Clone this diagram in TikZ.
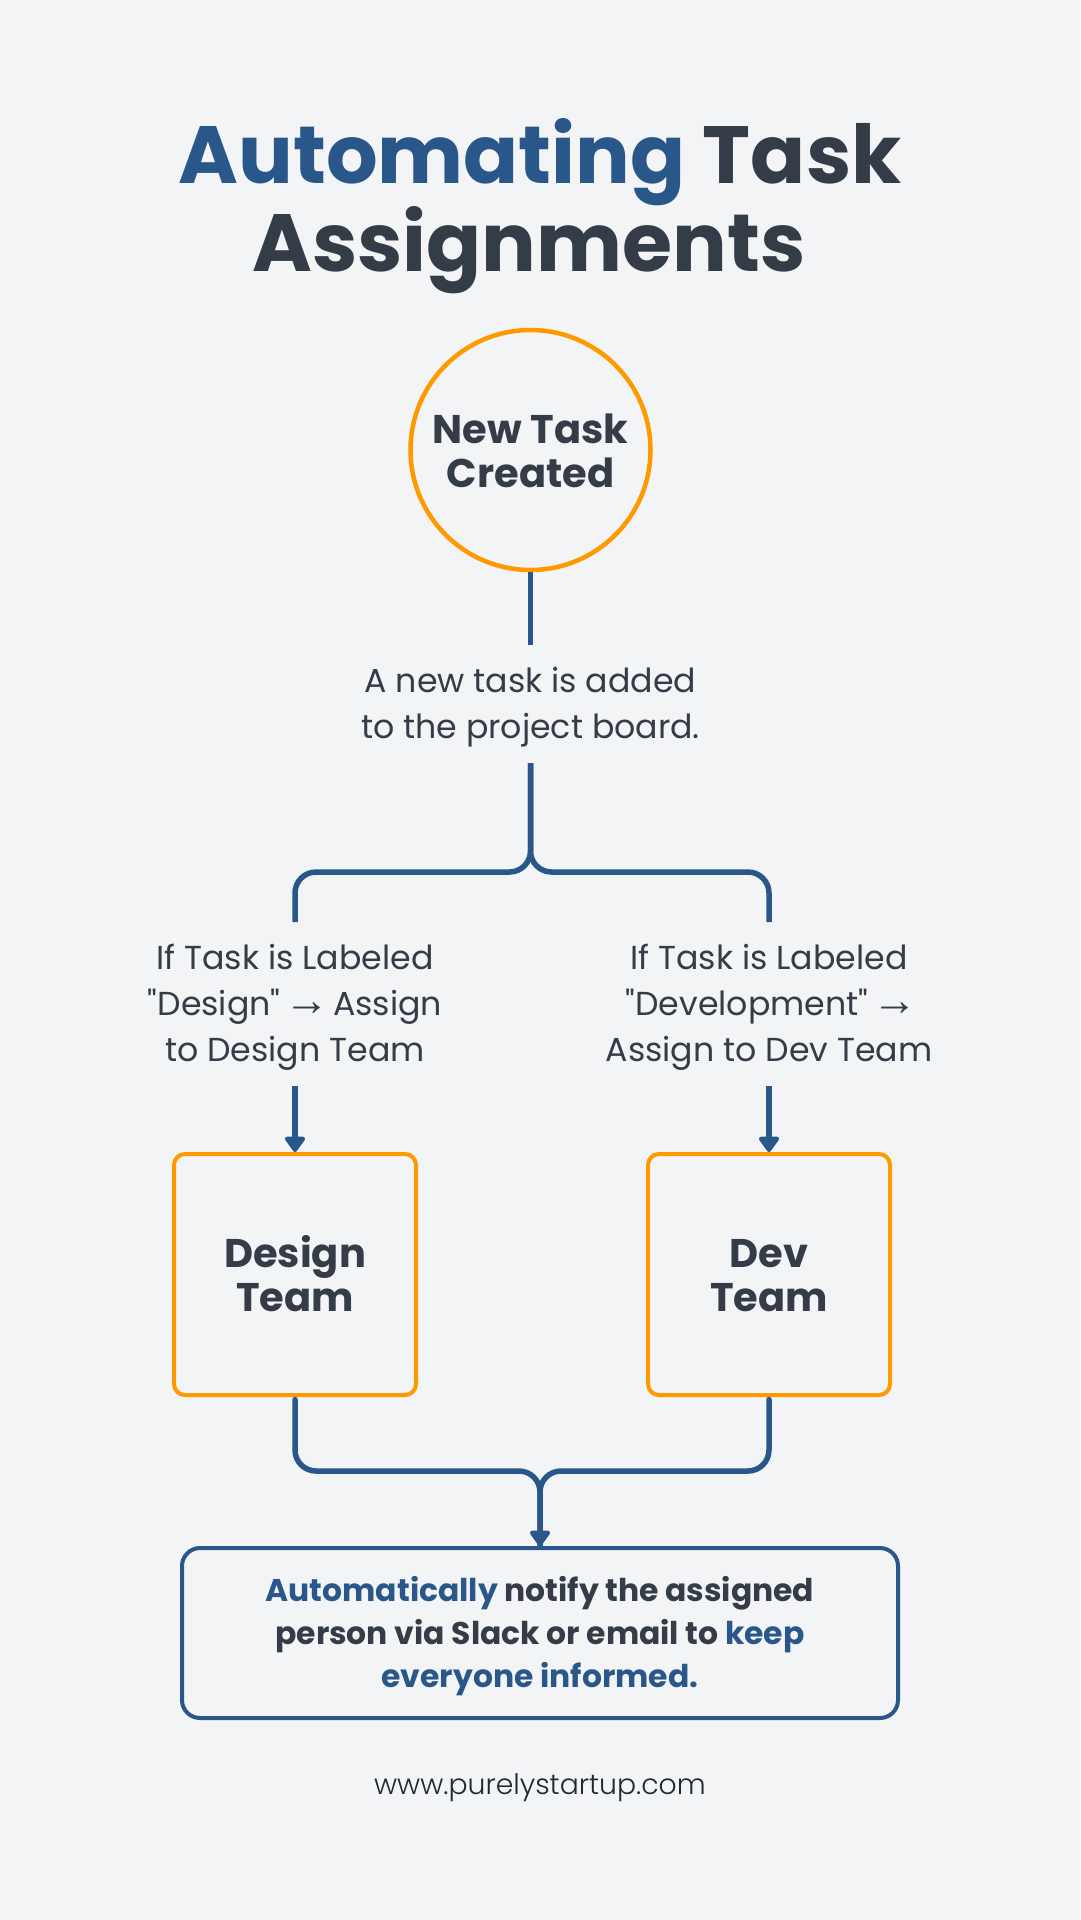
\documentclass[tikz,border=0pt]{standalone}
\usepackage{fontspec}
\setmainfont{Poppins}
\newfontfamily\condfont{Poppins}
\newfontfamily\arrowfont{Liberation Sans}
\newfontfamily\lightfont{Poppins Light}
\usetikzlibrary{arrows.meta}
\definecolor{bgc}{HTML}{F3F4F6}
\definecolor{ink}{HTML}{343C47}
\definecolor{navy}{HTML}{2A5789}
\definecolor{amber}{HTML}{FF9900}
\definecolor{siteink}{HTML}{1F2733}
\newcommand{\thinarrow}{\makebox[35pt]{\raisebox{-0.5pt}{\fontsize{45}{46}\arrowfont →}}}
\tikzset{
  conn/.style={draw=navy,line width=5.5pt,rounded corners=21pt},
  tip/.style={-{Triangle[width=23pt,length=17pt,round]}},
  stagebox/.style={draw=amber,line width=4pt,rounded corners=11pt,minimum width=242pt,minimum height=241pt,align=center,inner sep=0pt,text=ink,text height=82pt,text depth=7.2pt,font=\fontsize{40}{44}\selectfont\bfseries},
  cond/.style={align=center,inner sep=0pt,outer sep=0pt,text=ink,font=\fontsize{33.2}{46}\condfont},
  titleline/.style={anchor=base,inner sep=0pt,font=\fontsize{81.2}{88}\selectfont\bfseries}
}
\begin{document}
\begin{tikzpicture}[x=1pt,y=-1pt]
\useasboundingbox[fill=bgc] (0,0) rectangle (1080,1920);
\node[titleline] (t1) at (540,183) {\textcolor{navy}{Automating} \textcolor{ink}{Task}};
\node[titleline,text=ink] (t2) at (529,271) {Assignments};
\node[circle,draw=amber,line width=4.5pt,minimum size=240pt,inner sep=0pt,align=center,text=ink,text height=82pt,text depth=7.6pt,font=\fontsize{40}{43.5}\selectfont\bfseries] (start) at (530.5,450) {New Task\\Created};
\node[cond,minimum height=118pt,text height=82pt,text depth=12.2pt] (desc) at (530.5,704) {A new task is added\\to the project board.};
\node[cond,minimum height=164pt,text height=122pt,text depth=7.6pt] (lab1) at (295,1004) {If Task is Labeled\\"Design" \thinarrow{} Assign\\to Design Team};
\node[cond,minimum height=164pt,text height=122pt,text depth=7.6pt] (lab2) at (769,1004) {If Task is Labeled\\"Development" \thinarrow{}\\Assign to Dev Team};
\node[stagebox] (design) at (295,1274.5) {Design\\Team};
\node[stagebox] (dev) at (769,1274.5) {Dev\\Team};
\node[draw=navy,line width=4pt,rounded corners=18pt,minimum width=716pt,minimum height=170pt,inner sep=0pt,align=center,text=ink,text height=122pt,text depth=14pt,font=\fontsize{31.4}{43}\selectfont\bfseries] (note) at (540,1633) {\textcolor{navy}{Automatically} notify the assigned\\person via Slack or email to \textcolor{navy}{keep}\\\textcolor{navy}{everyone informed.}};
\node[anchor=base,inner sep=0pt,text=siteink,font=\fontsize{28.3}{34}\lightfont] (site) at (540,1794) {www.purelystartup.com};
\coordinate (forkM) at (530.5,872);
\coordinate (forkL) at (295,872);
\coordinate (forkR) at (769,872);
\coordinate (joinL) at (295,1471);
\coordinate (joinR) at (769,1471);
\coordinate (joinM) at (540,1471);
\draw[conn] (start.south) -- (desc.north);
\draw[conn] (desc.south) -- (forkM) -- (forkL) -- (lab1.north);
\draw[conn] (desc.south) -- (forkM) -- (forkR) -- (lab2.north);
\draw[conn,tip] (lab1.south) -- (design.north);
\draw[conn,tip] (lab2.south) -- (dev.north);
\draw[conn,line cap=round,shorten <=2.5pt] (design.south) -- (joinL) -- (joinM) -- (note.north);
\draw[conn,line cap=round,shorten <=2.5pt,tip] (dev.south) -- (joinR) -- (joinM) -- (note.north);
\end{tikzpicture}
\end{document}
